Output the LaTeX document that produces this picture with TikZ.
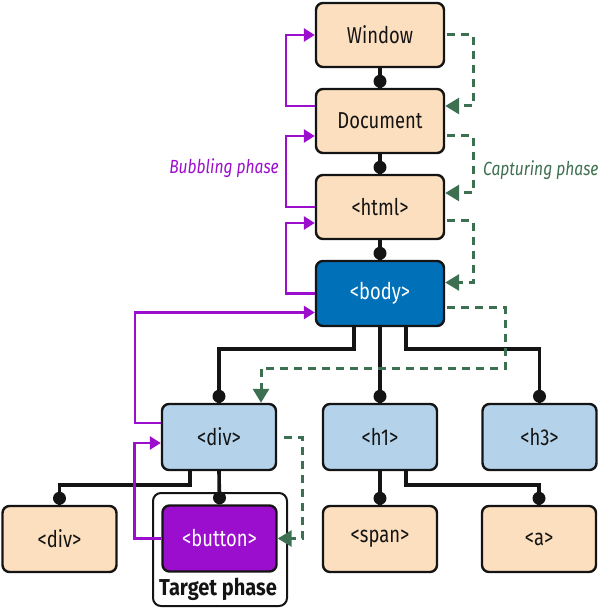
\documentclass[tikz,border=0pt]{standalone}
\usepackage{fontspec}
\setmainfont{Fira Sans}[FakeStretch=0.8, BoldFeatures={FakeStretch=0.87}, ItalicFeatures={FakeStretch=0.82}]
\usetikzlibrary{arrows.meta,calc}
\definecolor{peach}{HTML}{FCDFBE}
\definecolor{lblue}{HTML}{B4D3EA}
\definecolor{dblue}{HTML}{0070B9}
\definecolor{myviolet}{HTML}{9C0ECE}
\definecolor{capgreen}{HTML}{3D7050}
\definecolor{ink}{HTML}{141414}
\tikzset{
  box/.style={draw=ink, line width=2.4pt, rounded corners=7pt, minimum width=128pt,
    minimum height=64pt, fill=peach, inner sep=0pt, font=\fontsize{23}{26}\selectfont, text=ink},
  lowbox/.style={box, minimum width=114pt, minimum height=66pt},
  tree/.style={line width=3.6pt, draw=ink},
  dotmark/.style={fill=ink},
  capt/.style={draw=capgreen, line width=3pt, dash pattern=on 8pt off 6pt,
    -{Triangle[length=14pt,width=16pt]}},
  bubb/.style={draw=myviolet, line width=2.6pt, -{Triangle[length=11pt,width=13pt]}},
  targetbox/.style={draw=ink, line width=2pt, rounded corners=8pt, fill=white,
    minimum width=134pt, minimum height=113pt},
}
\begin{document}
\begin{tikzpicture}[x=1pt,y=-1pt]
\useasboundingbox (0,0) rectangle (600,609);
% target phase frame
\node[targetbox] (tgt) at (220,549.5) {};
\node[font=\bfseries\fontsize{23}{26}\selectfont, text=ink, inner sep=0pt] (tlabel) at (218,589) {Target phase};
% nodes
\node[box] (win) at (380,35) {Window};
\node[box] (doc) at (380,121) {Document};
\node[box] (html) at (380,207) {<html>};
\node[box, fill=dblue, text=white, minimum height=65pt] (body) at (380,293.5) {<body>};
\node[lowbox, fill=lblue] (div1) at (219,437) {<div>};
\node[lowbox, fill=lblue] (h1) at (380,437) {<h1>};
\node[lowbox, fill=lblue] (h3) at (539.5,437) {<h3>};
\node[lowbox] (div2) at (59.5,539) {<div>};
\node[lowbox, fill=myviolet, text=white] (button) at (219.5,538.5) {<button>};
\node[lowbox] (span) at (380,539) {<span>};
\node[lowbox] (a) at (539,539) {<a>};
% tree connectors
\draw[tree] (win.south) -- (doc.north);
\draw[tree] (doc.south) -- (html.north);
\draw[tree] (html.south) -- (body.north);
\draw[tree] ([xshift=-26pt]body.south) -- ++(0,22) -| (div1.north);
\draw[tree] (body.south) -- (h1.north);
\draw[tree] ([xshift=26pt]body.south) -- ++(0,22) -| (h3.north);
\draw[tree] ([xshift=-29pt]div1.south) -- ++(0,14) -| (div2.north);
\draw[tree] (div1.south) -- (button.north);
\draw[tree] (h1.south) -- (span.north);
\draw[tree] ([xshift=26pt]h1.south) -- ++(0,14) -| (a.north);
\foreach \n in {doc,html,body,div1,h1,h3,div2,button,span,a}
  \fill[dotmark] ([yshift=6.5pt]\n.north) circle (6.5pt);
% capturing phase
\draw[capt] ([xshift=2pt]win.east) -- ++(26,0) |- ([yshift=15pt]doc.east);
\draw[capt] ([yshift=-15pt,xshift=2pt]doc.east) -- ++(26,0) |- ([yshift=14pt]html.east);
\draw[capt] ([yshift=-14pt,xshift=2pt]html.east) -- ++(26,0) |- ([yshift=11pt]body.east);
\draw[capt] ([yshift=-14pt,xshift=2pt]body.east) -- ++(58,0) -- ++(0,61) -| ([xshift=42pt]div1.north);
\draw[capt] ([xshift=7pt]div1.east) -- ++(18,0) |- (button.east);
% bubbling phase
\draw[bubb] ([yshift=15pt]doc.west) -- ++(-29,0) |- (win.west);
\draw[bubb] (html.west) -- ++(-29,0) |- ([yshift=-15pt]doc.west);
\draw[bubb] (body.west) -- ++(-29,0) |- ([yshift=-16pt]html.west);
\draw[bubb] ([yshift=14pt]div1.west) -- ++(-26,0) |- ([yshift=-19pt]body.west);
\draw[bubb] (button.west) -- ++(-27,0) |- ([yshift=-6pt]div1.west);
% labels
\node[anchor=east, inner sep=0pt, text=myviolet, font=\itshape\fontsize{19}{21}\selectfont] (bublabel) at (279,168) {Bubbling phase};
\node[anchor=west, inner sep=0pt, text=capgreen, font=\itshape\fontsize{19}{21}\selectfont] (caplabel) at (483,170) {Capturing phase};
\end{tikzpicture}
\end{document}
